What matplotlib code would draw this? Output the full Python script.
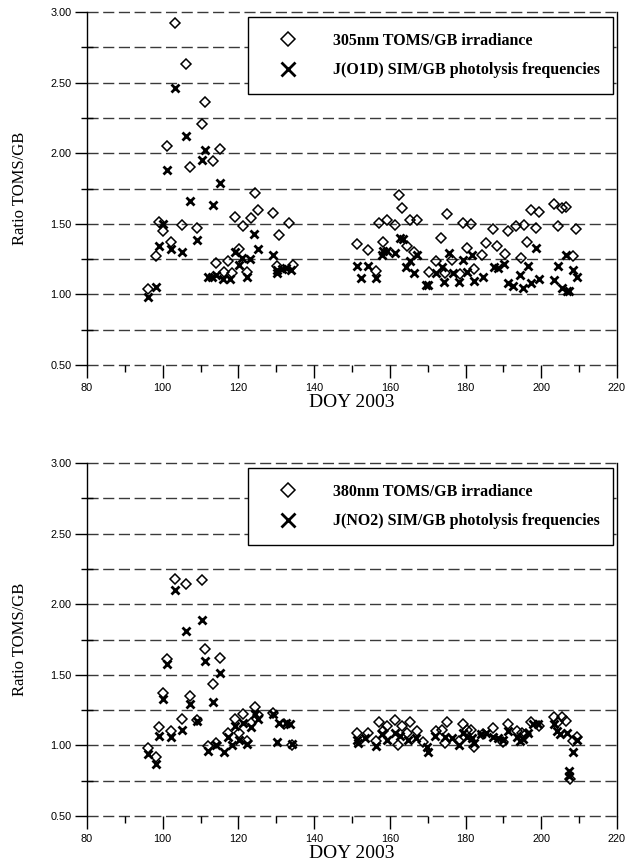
import matplotlib
matplotlib.use("Agg")
import matplotlib.pyplot as plt
from matplotlib.ticker import MultipleLocator, FormatStrFormatter
import numpy as np

# ---- 305 nm / J(O1D) panel ----
o1d_irr_doy = [96.2, 98.2, 98.9, 100.2, 101.2, 102.1, 103.2, 105.2, 106.1, 107.2, 109.0, 110.3,
               111.2, 113.2, 114.2, 115.1, 116.2, 117.3, 118.2, 119.1, 120.2, 121.1, 122.2, 123.2,
               124.3, 125.2, 129.2, 130.1, 130.7, 133.4, 134.4,
               151.2, 154.3, 156.3, 157.2, 158.3, 159.3, 161.4, 162.4, 163.3, 164.4, 165.3, 166.4,
               167.2, 170.3, 172.3, 173.4, 174.6, 175.2, 176.3, 178.5, 179.4, 180.3, 181.4, 182.3,
               184.4, 185.4, 187.3, 188.4, 190.4, 191.3, 193.3, 194.6, 195.4, 196.3, 197.4, 198.5,
               199.5, 203.4, 204.5, 205.5, 206.5, 208.5, 209.3]
o1d_irr_ratio = [1.035, 1.27, 1.51, 1.45, 2.05, 1.37, 2.92, 1.49, 2.635, 1.90, 1.47, 2.21,
                 2.363, 1.945, 1.22, 2.03, 1.16, 1.24, 1.15, 1.545, 1.325, 1.486, 1.16, 1.54,
                 1.715, 1.60, 1.58, 1.20, 1.42, 1.508, 1.21,
                 1.356, 1.314, 1.167, 1.507, 1.373, 1.526, 1.49, 1.703, 1.613, 1.34, 1.53, 1.30,
                 1.53, 1.156, 1.24, 1.40, 1.153, 1.566, 1.243, 1.144, 1.503, 1.326, 1.498, 1.18,
                 1.278, 1.366, 1.462, 1.342, 1.285, 1.45, 1.484, 1.255, 1.49, 1.373, 1.597, 1.467,
                 1.585, 1.637, 1.484, 1.609, 1.616, 1.273, 1.462]

o1d_j_doy = [96.2, 98.1, 99.0, 100.2, 101.2, 102.1, 103.2, 105.2, 106.1, 107.2, 109.0, 110.3,
             111.2, 112.0, 113.0, 113.2, 114.2, 115.1, 116.0, 117.8, 119.2, 120.2, 121.0, 122.2,
             123.1, 124.2, 125.2, 129.2, 130.1, 130.3, 131.5, 132.5, 134.0,
             151.2, 152.4, 154.3, 156.3, 158.0, 158.3, 159.3, 161.4, 162.7, 163.5, 164.3, 165.3,
             166.4, 167.2, 169.5, 170.0, 172.3, 173.7, 174.4, 175.5, 176.8, 178.3, 179.4, 180.3,
             181.6, 182.3, 184.7, 187.5, 188.6, 190.1, 191.3, 192.4, 194.4, 195.2, 196.6, 197.4,
             198.5, 199.5, 203.4, 204.5, 205.5, 206.5, 206.7, 207.4, 208.5, 209.5]
o1d_j_ratio = [0.985, 1.05, 1.34, 1.50, 1.88, 1.32, 2.46, 1.30, 2.12, 1.66, 1.385, 1.95,
               2.02, 1.125, 1.12, 1.63, 1.14, 1.79, 1.11, 1.11, 1.30, 1.21, 1.26, 1.125,
               1.25, 1.43, 1.32, 1.28, 1.15, 1.17, 1.18, 1.19, 1.17,
               1.20, 1.118, 1.20, 1.118, 1.28, 1.309, 1.31, 1.29, 1.40, 1.39, 1.196, 1.24,
               1.149, 1.28, 1.066, 1.07, 1.149, 1.196, 1.09, 1.29, 1.149, 1.085, 1.243, 1.16,
               1.278, 1.094, 1.125, 1.196, 1.184, 1.215, 1.078, 1.061, 1.137, 1.047, 1.20, 1.078,
               1.326, 1.109, 1.10, 1.20, 1.043, 1.278, 1.025, 1.025, 1.172, 1.125]

# ---- 380 nm / J(NO2) panel ----
no2_irr_doy = [96.2, 98.2, 99.0, 100.2, 101.2, 102.1, 103.2, 105.2, 106.1, 107.2, 109.1, 110.3,
               111.2, 112.0, 113.2, 114.1, 115.1, 117.3, 119.1, 120.2, 121.1, 122.2, 123.2, 124.3,
               125.2, 129.2, 132.0, 134.2,
               151.2, 154.3, 156.3, 157.2, 158.3, 159.3, 161.4, 162.2, 163.3, 164.4, 165.3, 167.2,
               168.8, 172.3, 173.7, 174.6, 175.2, 178.3, 179.4, 180.3, 181.4, 182.3, 184.7, 187.3,
               190.0, 191.3, 193.5, 194.8, 196.0, 197.4, 199.5, 203.4, 204.5, 205.5, 206.5, 207.5,
               208.5, 209.5]
no2_irr_ratio = [0.98, 0.92, 1.13, 1.368, 1.61, 1.10, 2.177, 1.186, 2.14, 1.35, 1.18, 2.17,
                 1.68, 0.998, 1.434, 1.02, 1.616, 1.085, 1.184, 1.085, 1.22, 1.03, 1.156, 1.273,
                 1.215, 1.23, 1.15, 1.0,
                 1.085, 1.085, 1.03, 1.167, 1.10, 1.14, 1.18, 1.0, 1.14, 1.085, 1.167, 1.10,
                 1.026, 1.10, 1.11, 1.015, 1.167, 1.03, 1.15, 1.11, 1.11, 0.99, 1.08, 1.12,
                 1.026, 1.15, 1.10, 1.09, 1.08, 1.167, 1.14, 1.20, 1.167, 1.20, 1.17, 0.76,
                 1.03, 1.06]

no2_j_doy = [96.2, 98.2, 99.0, 100.2, 101.2, 102.1, 103.2, 105.2, 106.1, 107.2, 109.1, 110.3,
             111.2, 112.0, 113.2, 114.1, 115.1, 116.2, 117.3, 118.2, 119.1, 120.2, 121.1, 122.2,
             123.2, 124.3, 125.2, 129.2, 130.1, 130.7, 132.5, 133.5, 134.2,
             151.2, 151.5, 153.4, 156.3, 158.0, 159.3, 161.4, 162.7, 164.8, 166.9, 169.7, 170.1,
             172.0, 174.6, 176.3, 178.3, 179.4, 180.3, 181.6, 182.3, 184.0, 185.4, 187.3, 188.6,
             190.0, 191.3, 193.5, 194.4, 195.2, 196.6, 197.9, 199.2, 203.4, 204.2, 205.0, 206.8,
             207.2, 207.3, 208.5, 209.5]
no2_j_ratio = [0.94, 0.87, 1.067, 1.33, 1.58, 1.057, 2.10, 1.11, 1.81, 1.29, 1.17, 1.89,
               1.60, 0.96, 1.31, 1.0, 1.514, 0.955, 1.06, 1.0, 1.14, 1.04, 1.16, 1.01,
               1.13, 1.22, 1.19, 1.22, 1.026, 1.16, 1.16, 1.15, 1.01,
               1.04, 1.02, 1.05, 0.995, 1.08, 1.04, 1.085, 1.07, 1.04, 1.05, 0.99, 0.955,
               1.07, 1.06, 1.05, 1.0, 1.09, 1.06, 1.05, 1.02, 1.08, 1.09, 1.06, 1.05,
               1.04, 1.10, 1.06, 1.03, 1.045, 1.09, 1.15, 1.15, 1.15, 1.10, 1.08, 1.09,
               0.82, 0.78, 0.95, 1.04]

panels = [
    (o1d_irr_doy, o1d_irr_ratio, "305nm TOMS/GB irradiance",
     o1d_j_doy, o1d_j_ratio, "J(O1D) SIM/GB photolysis frequencies"),
    (no2_irr_doy, no2_irr_ratio, "380nm TOMS/GB irradiance",
     no2_j_doy, no2_j_ratio, "J(NO2) SIM/GB photolysis frequencies"),
]

plt.rcParams["lines.scale_dashes"] = False
serif = ["Liberation Serif", "DejaVu Serif"]
sans = ["Liberation Sans", "DejaVu Sans"]

W, H = 635, 868
fig = plt.figure(figsize=(W / 100, H / 100), dpi=100)

ax_left, ax_right = 87, 617
panel_px = [(12, 365), (463, 816)]

grid_levels = np.arange(0.5, 3.0001, 0.25)

for (top, bot), (d_doy, d_val, d_lab, x_doy, x_val, x_lab) in zip(panel_px, panels):
    ax = fig.add_axes([ax_left / W, 1 - bot / H, (ax_right - ax_left) / W, (bot - top) / H])
    ax.set_xlim(80, 220)
    ax.set_ylim(0.5, 3.0)

    for lvl in grid_levels:
        ax.axhline(lvl, color="#3a3a3a", lw=1.0, linestyle=(0, (8, 3.3)),
                   zorder=1, clip_on=False)

    ax.plot(d_doy, d_val, linestyle="none", marker="D", ms=4.6, mfc="none",
            mec="black", mew=1.1, label=d_lab, zorder=3)
    ax.plot(x_doy, x_val, linestyle="none", marker="x", ms=6.4, mec="black",
            mew=2.0, label=x_lab, zorder=4)

    for s in ("top", "bottom"):
        ax.spines[s].set_visible(False)
    for s in ("left", "right"):
        ax.spines[s].set_linewidth(1.0)
        ax.spines[s].set_color("black")

    ax.xaxis.set_major_locator(MultipleLocator(20))
    ax.xaxis.set_minor_locator(MultipleLocator(10))
    ax.yaxis.set_major_locator(MultipleLocator(0.5))
    ax.yaxis.set_minor_locator(MultipleLocator(0.25))
    ax.yaxis.set_major_formatter(FormatStrFormatter("%.2f"))
    ax.tick_params(axis="x", which="major", direction="out", length=9, width=1.0,
                   labelsize=7.8, pad=4)
    ax.tick_params(axis="x", which="minor", direction="out", length=5, width=1.0)
    ax.tick_params(axis="y", which="major", direction="out", length=9, width=1.0,
                   labelsize=7.8, pad=2)
    ax.tick_params(axis="y", which="minor", direction="inout", length=9, width=1.0)
    for lbl in ax.get_xticklabels() + ax.get_yticklabels():
        lbl.set_family(sans)

    ax.set_xlabel("DOY 2003", family=serif, fontsize=14, labelpad=1)
    ax.set_ylabel("Ratio TOMS/GB", family=serif, fontsize=12, labelpad=16)

    leg = ax.legend(loc="upper left",
                    bbox_to_anchor=(0.304, 0.986, 0.688, 0.0), mode="expand",
                    prop={"family": serif, "weight": "bold", "size": 11.5},
                    frameon=True, fancybox=False, edgecolor="black",
                    framealpha=1.0, markerscale=1.6, borderpad=1.0,
                    labelspacing=0.85, handlelength=3.0, handletextpad=1.3,
                    borderaxespad=0.0)
    leg.get_frame().set_linewidth(1.0)
    leg.set_zorder(10)

fig.savefig("out.png", dpi=100)
